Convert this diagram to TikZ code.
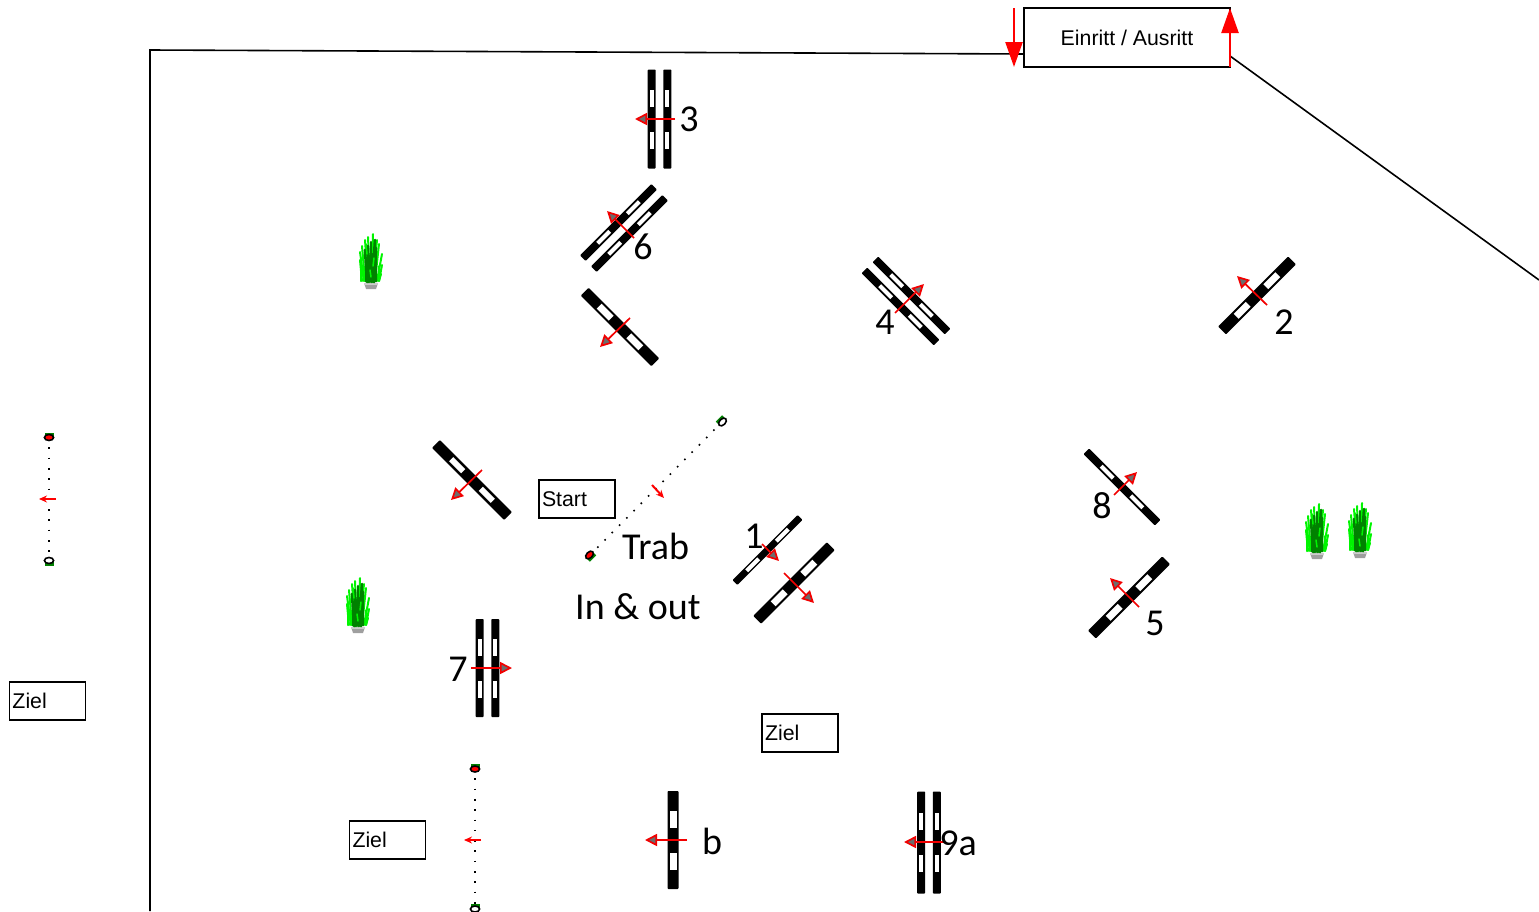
\documentclass[tikz,border=0pt]{standalone}
\usepackage{fontspec}
\setmainfont{Liberation Sans}
\newfontfamily\calfont{Carlito}
\usetikzlibrary{arrows.meta}
\tikzset{
 box/.style={draw=black,line width=1.5pt,fill=white,minimum height=38pt,minimum width=76pt,inner sep=0pt,font=\fontsize{21.3}{25}\selectfont},
 fence/.style={black,line width=1.6pt},
 num/.style={font=\calfont\fontsize{38}{42}\selectfont,inner sep=0pt,text=black},
 dir/.style={red!95!black,line width=1.7pt,-{Triangle[length=12pt,width=12pt,fill=gray!85!black,line width=1.7pt]}},
 smalldir/.style={red,line width=2pt,-{Stealth[length=8pt,width=7pt,fill=red]}},
 bigred/.style={red,line width=2.4pt,-{Triangle[length=25pt,width=17pt,fill=red]}},
 dots/.style={black,line width=1.6pt,dash pattern=on 1.6pt off 8.7pt},
 blade/.style={line width=2pt,line cap=round},
}
\definecolor{leafdark}{RGB}{0,130,0}
\definecolor{leafbright}{RGB}{0,245,0}
% rail(cx,cy,angle,length,width,slot width)
\newcommand{\rail}[6]{%
 \begin{scope}[shift={(#1,#2)},rotate=-#3]
  \fill[black,rounded corners=0.8pt] (-#5/2,-#4/2) rectangle (#5/2,#4/2);
  \fill[white] (-#6/2,-29.5) rectangle (#6/2,-12.5);
  \fill[white] (-#6/2,12.5) rectangle (#6/2,29.5);
 \end{scope}}
% double rail
\newcommand{\twin}[6]{%
 \begin{scope}[shift={(#1,#2)},rotate=-#3]
  \rail{-7.8}{0}{0}{#4}{#5}{#6}
  \rail{7.8}{0}{0}{#4}{#5}{#6}
 \end{scope}}
\newcommand{\plant}[2]{%
 \begin{scope}[shift={(#1,#2)}]
  \fill[gray!75] (-7,21) -- (7,21) -- (5,27) -- (-5,27) -- cycle;
  \fill[gray!40] (-7,21) rectangle (7,23);
  \foreach \a/\b/\c/\d in {-9/19/-11/-2,-7/19/-11/-10,-6/19/-9/-16,-3/19/-6/-22,-1/19/-3/-25,1/19/2/-28,2/19/6/-22,4/19/8/-18,6/19/11/-8,8/19/11/3,8/19/10/12,-10/19/-10/8}
   \draw[blade,leafbright] (\a,\b) -- (\c,\d);
  \foreach \a/\b/\c/\d in {-4/20/-6/-12,-2/20/-3/-16,0/20/0/-20,1/20/4/-22,3/20/5/-14,-3/20/2/-8,3/20/-2/-6}
   \draw[line width=2.6pt,line cap=round,leafdark] (\a,\b) -- (\c,\d);
  \fill[leafdark] (-6,20) -- (-6,-4) -- (6,-6) -- (6,20) -- cycle;
  \foreach \a/\b/\c/\d in {-9/8/-7/19,8/4/8/17,-1/8/0/15,-5/-18/-4/-8,3/-4/2/4}
   \draw[line width=1.5pt,line cap=round,leafbright] (\a,\b) -- (\c,\d);
 \end{scope}}
\newcommand{\flagend}[4]{% x,y,fill,angle
 \begin{scope}[shift={(#1,#2)},rotate=#4]
  \fill[green!50!black] (-4.5,-5) rectangle (4.5,0);
  \filldraw[draw=black,fill=#3,line width=1.6pt] (0,0) ellipse (4.6pt and 3pt);
 \end{scope}}
\begin{document}
\begin{tikzpicture}[x=1pt,y=-1pt]
\useasboundingbox (0,0) rectangle (1539,911);
\clip (0,0) rectangle (1539,911);
% fence
\node[box,minimum width=206pt,minimum height=59pt] (entry) at (1127,37.5) {Einritt / Ausritt};
\coordinate (fA) at (150,911);
\coordinate (fB) at (150,50);
\coordinate (fC) at (1024,54);
\coordinate (fD) at (1230,56);
\coordinate (fE) at (1539,280);
\draw[fence] (fA) -- (fB) -- (fC);
\draw[fence] (fD) -- (fE);
\coordinate (inA) at (1014,8); \coordinate (inB) at (1014,67);
\coordinate (outA) at (1230,67); \coordinate (outB) at (1230,8);
\draw[bigred] (inA) -- (inB);
\draw[bigred] (outA) -- (outB);
% rails
\twin{659.5}{119}{0}{99}{8}{4}
\twin{624}{228}{45}{101}{8}{4}
\rail{620}{327}{-45}{100}{11}{7}
\twin{906}{301}{-45}{102}{8}{4}
\rail{1257}{295.5}{45}{99}{11}{7}
\rail{1122}{487}{-45}{101}{8}{4}
\rail{472}{480}{-45}{102}{11}{6}
\rail{767.5}{550}{45}{92}{7}{4}
\rail{794}{583}{45}{104}{11}{7}
\rail{1129}{597.5}{45}{105}{11}{7}
\twin{487.5}{668}{0}{98}{8}{4}
\rail{673}{840}{0}{98}{11}{7}
\twin{929}{842.5}{0}{102}{8}{4}
% direction arrows
\draw[dir] (675,119) -- (635,119);
\draw[dir] (634,238) -- (607,211);
\draw[dir] (630,318) -- (600,347);
\draw[dir] (895,313) -- (924,284);
\draw[dir] (1267,305) -- (1237,276);
\draw[dir] (1114,495) -- (1137,472);
\draw[dir] (482,470) -- (451,500);
\draw[dir] (762,544) -- (779,561);
\draw[dir] (784,573) -- (814,603);
\draw[dir] (1139,607) -- (1110,578);
\draw[dir] (471,668) -- (512,668);
\draw[dir] (687,840) -- (645,840);
\draw[dir] (945,842) -- (904,842);
% flag lines
\coordinate (gA) at (49,437); \coordinate (gB) at (49,561);
\coordinate (gC) at (590,555); \coordinate (gD) at (722,422);
\coordinate (gE) at (475,768); \coordinate (gF) at (475,908);
\draw[dots] (gA) -- (gB);
\draw[dots] (gC) -- (gD);
\draw[dots] (gE) -- (gF);
\flagend{49}{437.5}{red}{0}
\flagend{49}{560.5}{white}{180}
\flagend{589.5}{555}{red}{225}
\flagend{722.5}{422}{white}{45}
\flagend{475}{769}{red}{0}
\flagend{475}{909}{white}{0}
\draw[smalldir] (56,499) -- (39,499);
\draw[smalldir] (652,485) -- (664,498);
\draw[smalldir] (481,840) -- (464,840);
% plants
\plant{371}{262}
\plant{358}{606}
\plant{1317}{532}
\plant{1360}{531}
% boxes
\node[box,text width=70pt,align=left] (start) at (577,499) {Start};
\node[box,text width=70pt,align=left] (zielA) at (47.5,701) {Ziel};
\node[box,text width=70pt,align=left] (zielB) at (800,733) {Ziel};
\node[box,text width=70pt,align=left] (zielC) at (387.5,840) {Ziel};
% labels
\node[num] (n3) at (689,119) {3};
\node[num] (n6) at (643,247) {6};
\node[num] (n4) at (885,322) {4};
\node[num] (n2) at (1284,322) {2};
\node[num] (n8) at (1102,506) {8};
\node[num] (n1) at (754,536) {1};
\node[num] (n5) at (1155,623) {5};
\node[num] (n7) at (458,669) {7};
\node[num] (nb) at (712,841) {b};
\node[num] (n9) at (958,843) {9a};
\node[num,anchor=base west] (trab) at (622,559) {Trab};
\node[num,anchor=base west] (inout) at (575,619) {In \& out};
\end{tikzpicture}
\end{document}
